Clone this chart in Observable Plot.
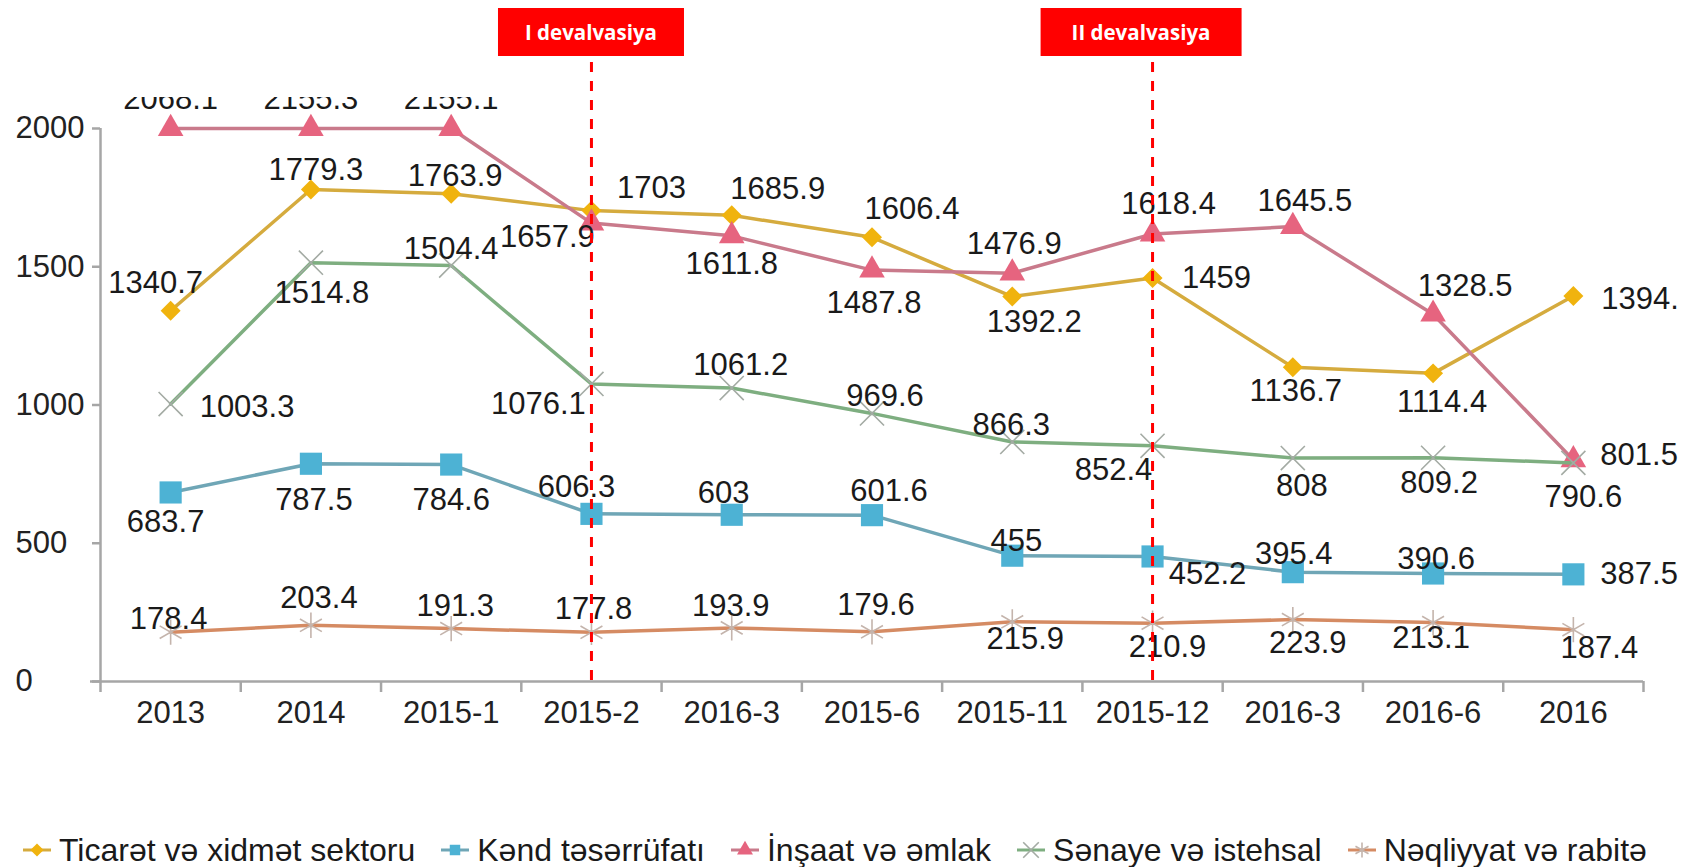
<!DOCTYPE html>
<html>
<head>
<meta charset="utf-8">
<script src="https://cdn.jsdelivr.net/npm/d3@7"></script>
<script src="https://cdn.jsdelivr.net/npm/@observablehq/plot@0.6"></script>
<style>
  html, body { margin: 0; padding: 0; background: #fff; }
  body { width: 1691px; height: 867px; overflow: hidden; position: relative;
         font-family: "Liberation Sans", Arial, Helvetica, sans-serif; }
  #chart { position: absolute; left: 0; top: 0; }
  .deval { position: absolute; top: 8px; height: 48px; line-height: 48px; transform: translateX(-50%);
           background: #ff0000; color: #fff; font-family: "Open Sans", sans-serif; font-weight: 700;
           font-size: 20.5px; white-space: nowrap; }
  #legend { position: absolute; left: 22px; top: 830px; height: 40px; display: flex; align-items: center;
            font-size: 32px; color: #1a1a1a; white-space: nowrap; }
  .item { display: flex; align-items: center; margin-right: 25px; }
  .item svg { margin-right: 7px; }
</style>
</head>
<body>
<div id="chart"></div>
<div id="legend"></div>
<script>
// ---------- data ----------
const categories = ["2013", "2014", "2015-1", "2015-2", "2016-3", "2015-6", "2015-11", "2015-12", "2016-3", "2016-6", "2016"];
const ticaret   = [1340.7, 1779.3, 1763.9, 1703, 1685.9, 1606.4, 1392.2, 1459, 1136.7, 1114.4, 1394.3];
const kend      = [683.7, 787.5, 784.6, 606.3, 603, 601.6, 455, 452.2, 395.4, 390.6, 387.5];
const insaat    = [2068.1, 2155.3, 2155.1, 1657.9, 1611.8, 1487.8, 1476.9, 1618.4, 1645.5, 1328.5, 801.5];
const senaye    = [1003.3, 1514.8, 1504.4, 1076.1, 1061.2, 969.6, 866.3, 852.4, 808, 809.2, 790.6];
const neqliyyat = [178.4, 203.4, 191.3, 177.8, 193.9, 179.6, 215.9, 210.9, 223.9, 213.1, 187.4];
const seriesNames = ["Ticarət və xidmət sektoru", "Kənd təsərrüfatı", "İnşaat və əmlak", "Sənaye və istehsal", "Nəqliyyat və rabitə"];
const yTicks = [0, 500, 1000, 1500, 2000];
const yMax = 2000;
const devaluations = [{index: 3, label: "I devalvasiya"}, {index: 7, label: "II devalvasiya"}];

// ---------- styling / label layout (pixels) ----------
const devalBoxStyle = [{shift: 0, pad: 27}, {shift: -11, pad: 31}];
const seriesValues = [ticaret, kend, insaat, senaye, neqliyyat];
const seriesStyle = [
  {line: "#D5AB3E", mark: "#F0B30E", symbol: "diamond2", r: 9,    filled: true},
  {line: "#6FA6B6", mark: "#4DB2D4", symbol: "square",   r: 12.5, filled: true},
  {line: "#C97A8B", mark: "#E6647F", symbol: "triangle", r: 9.5,  filled: true},
  {line: "#7EAE80", mark: "#A4ABA4", symbol: "times",    r: 11,   filled: false},
  {line: "#D58B63", mark: "#C4B4AC", symbol: "asterisk", r: 12,   filled: false}
];
// [dx, dy, anchor]  ("s" = start-anchored text to the right of the point)
const labelOffsets = [
  [[-15,-28],[5,-19],[4,-18],[60,-23],[46,-26],[40,-28],[22,26],[64,0],[3,24],[9,29],[28,3,"s"]],
  [[-5,30],[3,36],[0,36],[-15,-27],[-8,-22],[17,-24],[4,-15],[55,18],[1,-18],[3,-14],[27,0,"s"]],
  [[0,-29],[0,-29],[0,-29],[-44,14],[0,28],[2,33],[2,-29],[16,-30],[12,-25],[32,-28],[27,-5,"s"]],
  [[29,3,"s"],[11,30],[0,-16],[-53,20],[9,-23],[13,-17],[-1,-17],[-39,24],[9,28],[6,25],[10,34]],
  [[-2,-13],[8,-27],[4,-23],[2,-23],[-1,-22],[4,-27],[13,17],[15,24],[15,23],[-2,16],[26,18]]
];

const W = 1691, H = 760;
const AXIS = "#A6A6A6";
const FONT = "'Liberation Sans', Arial, Helvetica, sans-serif";

const rows = seriesValues.flatMap((vals, s) => vals.map((v, i) => ({s, i, v, label: String(v)})));

const seriesMarks = seriesValues.flatMap((vals, s) => {
  const st = seriesStyle[s];
  const data = vals.map((v, i) => ({i, v}));
  return [
    Plot.line(data, {x: "i", y: "v", stroke: st.line, strokeWidth: 3.5}),
    Plot.dot(data, st.filled
      ? {x: "i", y: "v", symbol: st.symbol, r: st.r, fill: st.mark, stroke: "none"}
      : {x: "i", y: "v", symbol: st.symbol, r: st.r, fill: "none", stroke: st.mark, strokeWidth: 1.6})
  ];
});

const labelMarks = rows.map(d => {
  const [dx, dy, a] = labelOffsets[d.s][d.i];
  return Plot.text([d], {x: "i", y: "v", text: "label", dx, dy,
    textAnchor: a === "s" ? "start" : "middle", fontSize: 31, fill: "#1a1a1a"});
});

const chart = Plot.plot({
  width: W, height: H,
  marginTop: 62, marginLeft: 100, marginRight: 48, marginBottom: H - 681,
  style: {fontFamily: FONT, fontSize: "30px", background: "#fff", color: "#222"},
  x: {type: "linear", domain: [-0.5, categories.length - 0.5]},
  y: {domain: [0, yMax], insetTop: 66, clamp: true},
  marks: [
    Plot.ruleY([0], {stroke: AXIS, strokeWidth: 2.5, insetLeft: -10}),
    Plot.ruleX([-0.5], {y1: 0, y2: yMax, stroke: AXIS, strokeWidth: 2.5}),
    Plot.axisX({ticks: d3.range(-0.5, categories.length), tickSize: 11, tickFormat: () => "", stroke: AXIS, strokeWidth: 2.5, label: null}),
    Plot.axisY({ticks: yTicks, tickSize: 8, tickFormat: () => "", stroke: AXIS, strokeWidth: 2.5, label: null}),
    Plot.text(yTicks, {y: d => d, text: d => String(d), frameAnchor: "left", textAnchor: "start", lineAnchor: "middle", dx: -85, fontSize: 31, fill: "#222"}),
    Plot.text(d3.range(categories.length), {x: d => d, text: d => categories[d], frameAnchor: "bottom", lineAnchor: "middle", dy: 32, fontSize: 31, fill: "#222"}),
    ...seriesMarks,
    ...labelMarks,
    Plot.ruleX(devaluations, {x: "index", stroke: "#FF0000", strokeWidth: 3, strokeDasharray: "10,9"})
  ]
});

const holder = document.getElementById("chart");
holder.append(chart);

// clip the data labels to the original picture's plotting area (top labels are cut off)
const ns = "http://www.w3.org/2000/svg";
const yS = chart.scale("y");
const labelSet = new Set(rows.map(r => r.label));
const groups = [];
chart.querySelectorAll("text").forEach(t => {
  if (labelSet.has(t.textContent)) {
    const g = t.parentNode;
    if (g && g.tagName.toLowerCase() === "g" && !groups.includes(g)) groups.push(g);
  }
});
if (groups.length) {
  const defs = document.createElementNS(ns, "defs");
  const cp = document.createElementNS(ns, "clipPath");
  cp.setAttribute("id", "label-clip");
  const rc = document.createElementNS(ns, "rect");
  rc.setAttribute("x", 0);
  rc.setAttribute("y", yS.apply(yMax) - 31);
  rc.setAttribute("width", W - 13);
  rc.setAttribute("height", H);
  cp.appendChild(rc); defs.appendChild(cp); chart.appendChild(defs);
  const wrap = document.createElementNS(ns, "g");
  wrap.setAttribute("clip-path", "url(#label-clip)");
  chart.insertBefore(wrap, groups[0]);
  groups.forEach(g => wrap.appendChild(g));
}

// devaluation boxes positioned with the x scale
const xS = chart.scale("x");
devaluations.forEach((d, k) => {
  const div = document.createElement("div");
  div.className = "deval";
  div.textContent = d.label;
  div.style.left = (xS.apply(d.index) + devalBoxStyle[k].shift) + "px";
  div.style.padding = `0 ${devalBoxStyle[k].pad}px`;
  document.body.appendChild(div);
});

// legend
const legend = document.getElementById("legend");
const symMap = {diamond2: d3.symbolDiamond2, square: d3.symbolSquare, triangle: d3.symbolTriangle, times: d3.symbolTimes, asterisk: d3.symbolAsterisk};
seriesNames.forEach((name, s) => {
  const st = seriesStyle[s];
  const item = document.createElement("div");
  item.className = "item";
  const svg = d3.create("svg").attr("width", 30).attr("height", 24);
  svg.append("line").attr("x1", 1).attr("x2", 29).attr("y1", 12).attr("y2", 12)
     .attr("stroke", st.line).attr("stroke-width", 3);
  const path = svg.append("path").attr("transform", "translate(15,12)")
     .attr("d", d3.symbol(symMap[st.symbol], st.filled ? 110 : 160)());
  if (st.filled) path.attr("fill", st.mark);
  else path.attr("fill", "none").attr("stroke", st.mark).attr("stroke-width", 1.6);
  item.appendChild(svg.node());
  const span = document.createElement("span");
  span.textContent = name;
  item.appendChild(span);
  legend.appendChild(item);
});
</script>
</body>
</html>
